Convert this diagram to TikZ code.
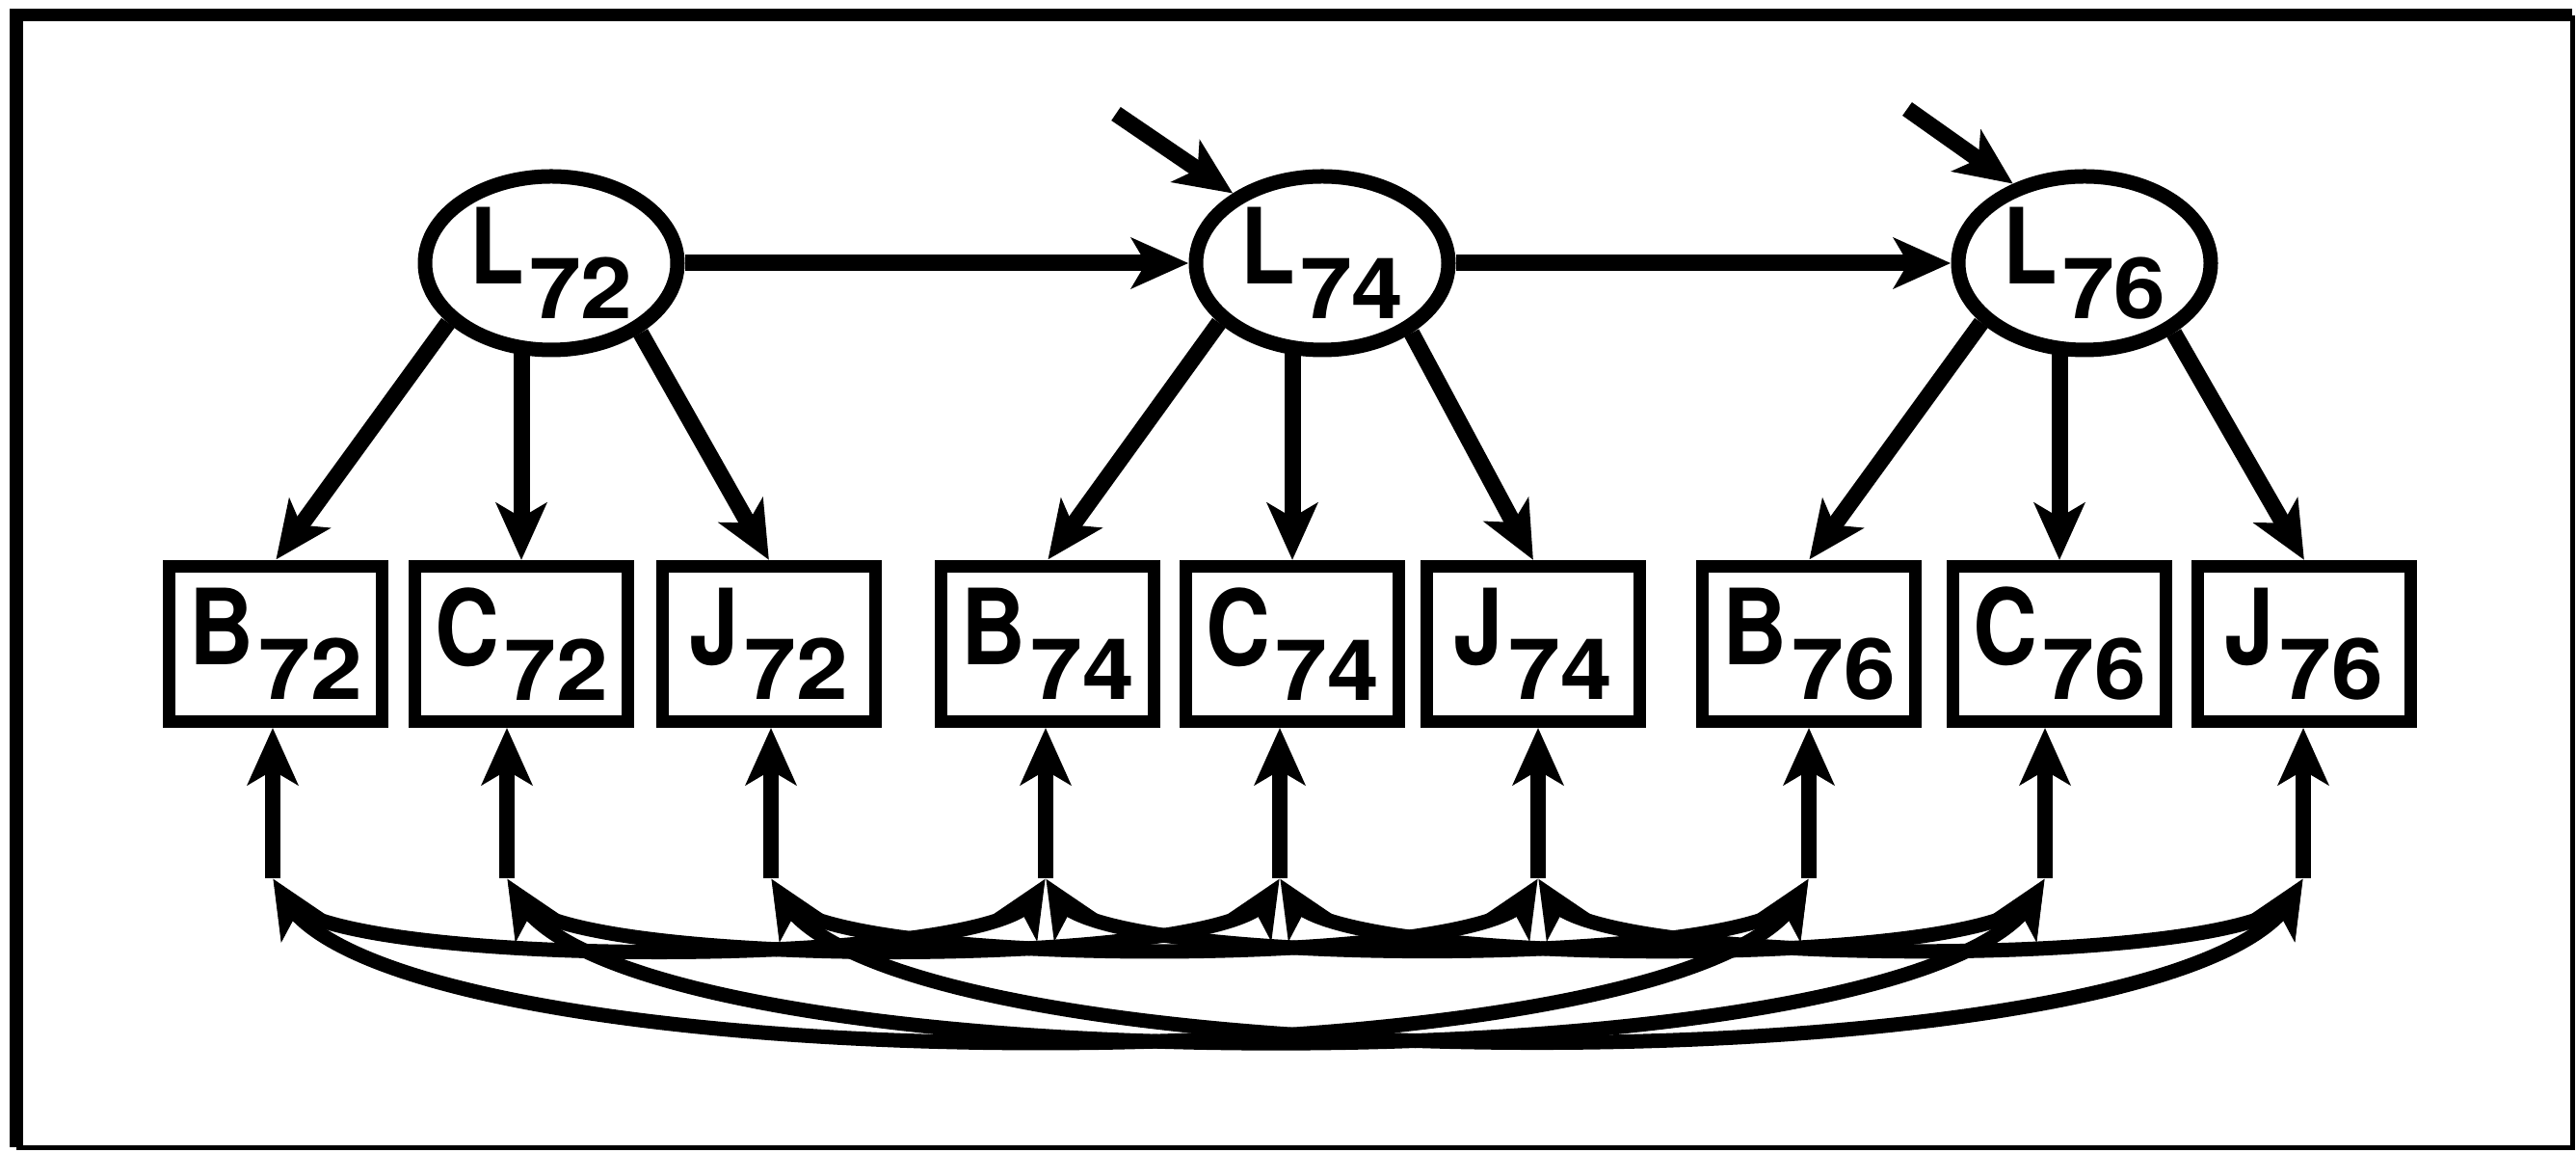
\documentclass[tikz,border=0pt]{standalone}
\usepackage{fontspec}
\newfontfamily\letterfont{TeX Gyre Heros}[FakeStretch=0.85]
\newfontfamily\digitfont{TeX Gyre Heros}[FakeStretch=1.1]
\usetikzlibrary{shapes.geometric,calc,decorations.markings}
\newcommand{\varlbl}[2]{{\letterfont\bfseries\fontsize{31pt}{33pt}\selectfont #1}\kern1.5pt\raisebox{-0.36cm}{\digitfont\bfseries\fontsize{25pt}{27pt}\selectfont #2}}

\begin{document}
\begin{tikzpicture}[
  latent/.style={draw,ellipse,line width=1.5mm,minimum width=2.62cm,minimum height=1.8cm,inner sep=0pt},
  manifest/.style={draw,rectangle,line width=1.3mm,minimum width=2.21cm,minimum height=1.61cm,inner sep=0pt},
  headend/.style={shorten >=2.5mm,postaction={decorate,decoration={markings,
    mark=at position 0.999 with {\fill (0,0) -- (-6mm,2.7mm) -- (-4.4mm,0) -- (-6mm,-2.7mm) -- cycle;}}}},
  headstart/.style={shorten <=2.5mm,postaction={decorate,decoration={markings,
    mark=at position 0.001 with {\fill (0,0) -- (6mm,2.7mm) -- (4.4mm,0) -- (6mm,-2.7mm) -- cycle;}}}},
  effect/.style={line width=1.7mm,headend},
  resid/.style={line width=1.6mm,headend},
  corr/.style={line width=1.5mm,headstart,headend},
  lag1/.style={out=-60,in=-120,looseness=0.35},
  lag2/.style={out=-60,in=-120,looseness=0.41}]
  \useasboundingbox (0,0) rectangle (26.73,11.95);
  %% frame
  \draw[line width=1.3mm] (26.69,11.79) -| (0.17,0.05);
  \draw[line width=0.5mm] (0.17,0.05) -| (26.69,11.79);
  %% latent variables
  \node[latent] (L72) at (5.72,9.22) {\varlbl{L}{72}};
  \node[latent] (L74) at (13.72,9.22) {\varlbl{L}{74}};
  \node[latent] (L76) at (21.63,9.22) {\varlbl{L}{76}};
  \coordinate (d74) at (11.58,10.77);
  \coordinate (d76) at (19.79,10.82);
  %% indicators
  \node[manifest] (B72) at (2.86,5.27) {\varlbl{B}{72}};
  \node[manifest] (C72) at (5.41,5.27) {\varlbl{C}{72}};
  \node[manifest] (J72) at (7.98,5.27) {\varlbl{J}{72}};
  \node[manifest] (B74) at (10.87,5.27) {\varlbl{B}{74}};
  \node[manifest] (C74) at (13.41,5.27) {\varlbl{C}{74}};
  \node[manifest] (J74) at (15.91,5.27) {\varlbl{J}{74}};
  \node[manifest] (B76) at (18.77,5.27) {\varlbl{B}{76}};
  \node[manifest] (C76) at (21.37,5.27) {\varlbl{C}{76}};
  \node[manifest] (J76) at (23.91,5.27) {\varlbl{J}{76}};
  %% residual ends
  \coordinate (eB72) at (2.83,2.84);
  \coordinate (eC72) at (5.26,2.84);
  \coordinate (eJ72) at (8.00,2.84);
  \coordinate (eB74) at (10.85,2.84);
  \coordinate (eC74) at (13.28,2.84);
  \coordinate (eJ74) at (15.96,2.84);
  \coordinate (eB76) at (18.77,2.84);
  \coordinate (eC76) at (21.22,2.84);
  \coordinate (eJ76) at (23.90,2.84);
  %% structural paths
  \draw[effect] (L72) -- (L74);
  \draw[effect] (L74) -- (L76);
  \draw[effect] (d74) -- (L74.142);
  \draw[effect] (d76) -- (L76.132);
  %% loadings
  \draw[effect] (L72.-150) -- (B72.north);
  \draw[effect] ($(C72.north |- L72.south)+(0,0.1)$) -- (C72.north);
  \draw[effect] (L72.-38) -- (J72.north);
  \draw[effect] (L74.-150) -- (B74.north);
  \draw[effect] ($(C74.north |- L74.south)+(0,0.1)$) -- (C74.north);
  \draw[effect] (L74.-38) -- (J74.north);
  \draw[effect] (L76.-150) -- (B76.north);
  \draw[effect] ($(C76.north |- L76.south)+(0,0.1)$) -- (C76.north);
  \draw[effect] (L76.-38) -- (J76.north);
  %% residuals
  \draw[resid] (eB72) -- (eB72 |- B72.south);
  \draw[resid] (eC72) -- (eC72 |- C72.south);
  \draw[resid] (eJ72) -- (eJ72 |- J72.south);
  \draw[resid] (eB74) -- (eB74 |- B74.south);
  \draw[resid] (eC74) -- (eC74 |- C74.south);
  \draw[resid] (eJ74) -- (eJ74 |- J74.south);
  \draw[resid] (eB76) -- (eB76 |- B76.south);
  \draw[resid] (eC76) -- (eC76 |- C76.south);
  \draw[resid] (eJ76) -- (eJ76 |- J76.south);
  %% correlated residuals
  \draw[corr] (eB72) to[lag1] (eB74);
  \draw[corr] (eB74) to[lag1] (eB76);
  \draw[corr] (eB72) to[lag2] (eB76);
  \draw[corr] (eC72) to[lag1] (eC74);
  \draw[corr] (eC74) to[lag1] (eC76);
  \draw[corr] (eC72) to[lag2] (eC76);
  \draw[corr] (eJ72) to[lag1] (eJ74);
  \draw[corr] (eJ74) to[lag1] (eJ76);
  \draw[corr] (eJ72) to[lag2] (eJ76);
\end{tikzpicture}
\end{document}
